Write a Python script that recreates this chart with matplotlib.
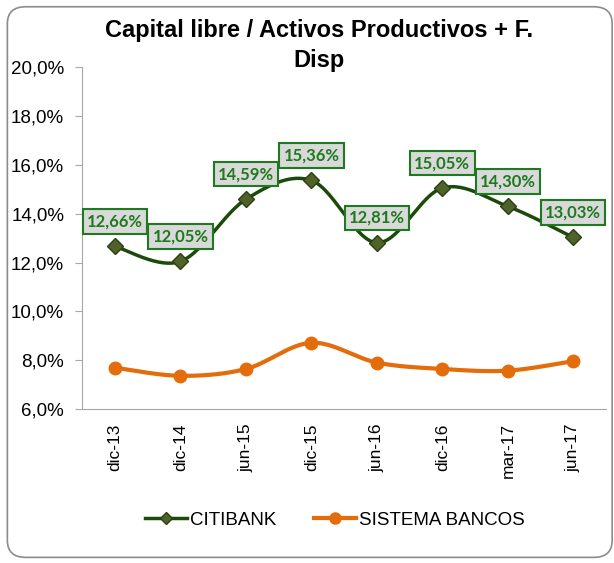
import numpy as np
import matplotlib.pyplot as plt
from matplotlib.patches import FancyBboxPatch

categories = ["dic-13", "dic-14", "jun-15", "dic-15", "jun-16", "dic-16", "mar-17", "jun-17"]
citibank = [12.66, 12.05, 14.59, 15.36, 12.81, 15.05, 14.30, 13.03]
sistema = [7.70, 7.37, 7.65, 8.72, 7.91, 7.65, 7.58, 7.97]
yticks = [6, 8, 10, 12, 14, 16, 18, 20]


def smooth(xs, ys, n=30):
    # Excel-like smoothed line: Catmull-Rom through the points, drawn as Bezier segments
    p = np.column_stack([xs, ys]).astype(float)
    p = np.vstack([p[0], p, p[-1]])
    out = []
    t = np.linspace(0, 1, n)[:, None]
    for i in range(1, len(p) - 2):
        a, b = p[i], p[i + 1]
        c1 = a + (p[i + 1] - p[i - 1]) / 6
        c2 = b - (p[i + 2] - p[i]) / 6
        seg = (1 - t) ** 3 * a + 3 * (1 - t) ** 2 * t * c1 + 3 * (1 - t) * t ** 2 * c2 + t ** 3 * b
        out.append(seg if i == 1 else seg[1:])
    out = np.vstack(out)
    return out[:, 0], out[:, 1]


plt.rcParams['font.family'] = ['Liberation Sans', 'DejaVu Sans']

fig = plt.figure(figsize=(6.14, 5.63), dpi=100)
fig.patches.append(FancyBboxPatch((0.012, 0.01), 0.985, 0.978, boxstyle="round,pad=0,rounding_size=0.03",
                                  transform=fig.transFigure, fill=False, edgecolor="#8c8c8c", linewidth=1.2))
ax = fig.add_axes([0.134, 0.273, 0.853, 0.608])

x = np.arange(len(categories))
green = "#1b4a0b"
orange = "#e46c0a"

sx, sy = smooth(x, citibank)
ax.plot(sx, sy, color=green, lw=2.5, zorder=3)
ax.plot(x, citibank, ls="none", marker="D", ms=8, mfc="#4f6228", mec="#2e3d14", zorder=4)
ox, oy = smooth(x, sistema)
ax.plot(ox, oy, color=orange, lw=3, zorder=3)
ax.plot(x, sistema, ls="none", marker="o", ms=9, color=orange, zorder=4)

for xi, v in zip(x, citibank):
    ax.annotate(f"{v:.2f}%".replace(".", ","), (xi, v), xytext=(0, 18), textcoords="offset points",
                ha="center", va="center", fontsize=12, fontweight="bold", color="#1e7a1e",
                family="Lato", zorder=5,
                bbox=dict(boxstyle="square,pad=0.25", fc="#d9d9d9", ec="#1e7a1e", lw=1.5))

ax.set_xlim(-0.5, len(categories) - 0.5)
ax.set_ylim(6, 20)
ax.set_yticks(yticks)
ax.set_yticklabels([f"{v:.1f}%".replace(".", ",") for v in yticks], fontsize=13.5)
ax.set_xticks(x)
ax.set_xticklabels(categories, rotation=90, fontsize=12.5)
ax.tick_params(axis="y", length=5, color="#a6a6a6", pad=8)
ax.tick_params(axis="x", length=0, pad=10)
for s in ["top", "right"]:
    ax.spines[s].set_visible(False)
for s in ["left", "bottom"]:
    ax.spines[s].set_color("#a6a6a6")

fig.text(0.52, 0.945, "Capital libre / Activos Productivos + F.", ha="center", va="center",
         fontsize=17, fontweight="bold")
fig.text(0.52, 0.893, "Disp", ha="center", va="center", fontsize=17, fontweight="bold")

h1, = ax.plot([], [], color=green, lw=2.5, marker="D", ms=6, mfc="#4f6228", mec="#2e3d14")
h2, = ax.plot([], [], color=orange, lw=3, marker="o", ms=8)
fig.legend([h1, h2], ["CITIBANK", "SISTEMA BANCOS"], loc="center", bbox_to_anchor=(0.546, 0.076),
           ncol=2, frameon=False, fontsize=13.5, handlelength=2.2, handletextpad=0.2, columnspacing=2)

fig.savefig("out.png", dpi=100)
